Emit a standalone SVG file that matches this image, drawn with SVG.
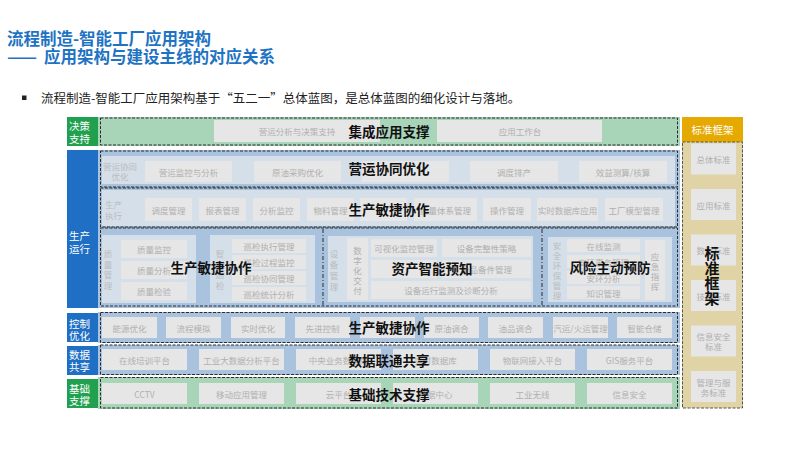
<svg xmlns="http://www.w3.org/2000/svg" width="800" height="450" viewBox="0 0 800 450" font-family="'Noto Sans CJK SC','Liberation Sans',sans-serif">
<style>
.bx{fill:#e6e6e6}
.bt{font-size:8.5px;fill:#b0b0b0;text-anchor:middle;dominant-baseline:central}
.pn{fill:#d4dfe9}
.bd{font-size:13.5px;font-weight:bold;fill:#111;text-anchor:middle;dominant-baseline:central}
.lb{font-size:10.5px;fill:#fff;dominant-baseline:central}
.ds{fill:none;stroke:#2b2b2b;stroke-width:1;stroke-dasharray:3 1.5}
.dd{fill:none;stroke:#2b2b2b;stroke-width:1;stroke-dasharray:4 2 1 2}
.blue{fill:#1f6fc5}
.green{fill:#21a050}
.bbg{fill:#a9c3de}
.gbg{fill:#a8d4b8}
.tt{font-size:16.5px;font-weight:bold;fill:#1e73c3}
</style>
<g id="title">
<text class="tt" x="7" y="45">流程制造-智能工厂应用架构</text>
<text class="tt" x="7" y="63" textLength="30" lengthAdjust="spacingAndGlyphs">——</text>
<text class="tt" x="44" y="63">应用架构与建设主线的对应关系</text>
<rect x="22" y="95.5" width="4.5" height="4.5" fill="#222"/>
<text x="41" y="97.5" font-size="12.5" fill="#222" dominant-baseline="central">流程制造-智能工厂应用架构基于“五二一”总体蓝图，是总体蓝图的细化设计与落地。</text>
</g>

<g id="row-decision">
<rect class="green" x="67" y="117" width="31" height="29"/>
<text class="lb" x="69" y="125">决策</text>
<text class="lb" x="69" y="138">支持</text>
<rect class="gbg" x="98" y="117" width="582" height="29"/>
<rect class="ds" x="100.5" y="118" width="577" height="27"/>
<rect class="bx" x="214" y="120" width="166" height="22"/>
<text class="bt" x="297" y="131">营运分析与决策支持</text>
<rect class="bx" x="437" y="120" width="165" height="22"/>
<text class="bt" x="520" y="131">应用工作台</text>
<text class="bd" x="389" y="131">集成应用支撑</text>
</g>

<g id="row-production">
<rect class="blue" x="67" y="150" width="31" height="158"/>
<text class="lb" x="69" y="235">生产</text>
<text class="lb" x="69" y="248">运行</text>
<rect class="bbg" x="98" y="150" width="582" height="158"/>
</g>

<g id="sub-operation">
<rect class="ds" x="100.5" y="151" width="577" height="36"/>
<rect class="pn" x="102" y="156" width="573" height="28"/>
<text class="bt" x="120" y="166" style="fill:#bcbcbc">营运协同</text>
<text class="bt" x="120" y="176" style="fill:#bcbcbc">优化</text>
<rect class="bx" x="145" y="161" width="87" height="21"/>
<text class="bt" x="188.5" y="171.5">营运监控与分析</text>
<rect class="bx" x="254" y="161" width="87" height="21"/>
<text class="bt" x="297.5" y="171.5">原油采购优化</text>
<rect class="bx" x="362" y="161" width="87" height="21"/>
<rect class="bx" x="470" y="161" width="88" height="21"/>
<text class="bt" x="514" y="171.5">调度排产</text>
<rect class="bx" x="579" y="161" width="88" height="21"/>
<text class="bt" x="623" y="171.5">效益测算/核算</text>
<text class="bd" x="389" y="168">营运协同优化</text>
</g>

<g id="sub-execution">
<rect class="ds" x="100.5" y="188" width="577" height="39"/>
<rect class="pn" x="102" y="190" width="573" height="36"/>
<text class="bt" x="105" y="204" style="text-anchor:start;fill:#bcbcbc">生产</text>
<text class="bt" x="105" y="215" style="text-anchor:start;fill:#bcbcbc">执行</text>
<rect class="bx" x="145" y="198" width="47" height="23"/>
<text class="bt" x="168.5" y="209.5">调度管理</text>
<rect class="bx" x="199" y="198" width="47" height="23"/>
<text class="bt" x="222.5" y="209.5">报表管理</text>
<rect class="bx" x="253" y="198" width="47" height="23"/>
<text class="bt" x="276.5" y="209.5">分析监控</text>
<rect class="bx" x="307" y="198" width="47" height="23"/>
<text class="bt" x="330.5" y="209.5">物料管理</text>
<rect class="bx" x="360" y="198" width="47" height="23"/>
<rect class="bx" x="414" y="198" width="63" height="23"/>
<text class="bt" x="445.5" y="209.5">质量体系管理</text>
<rect class="bx" x="483" y="198" width="48" height="23"/>
<text class="bt" x="507" y="209.5">操作管理</text>
<rect class="bx" x="537" y="198" width="61" height="23"/>
<text class="bt" x="567.5" y="209.5">实时数据库应用</text>
<rect class="bx" x="605" y="198" width="58" height="23"/>
<text class="bt" x="634" y="209.5">工厂模型管理</text>
<text class="bd" x="389" y="209">生产敏捷协作</text>
</g>

<g id="sub-lower">
<rect class="ds" x="100.5" y="228" width="577" height="78"/>
<line class="dd" x1="323" y1="229" x2="323" y2="306"/>
<line class="dd" x1="542" y1="229" x2="542" y2="306"/>
</g>

<g id="quality">
<rect class="pn" x="102" y="235" width="94" height="68"/>
<text class="bt" x="108" y="253" style="fill:#bcbcbc">质</text>
<text class="bt" x="108" y="263.5" style="fill:#bcbcbc">量</text>
<text class="bt" x="108" y="274" style="fill:#bcbcbc">管</text>
<text class="bt" x="108" y="284.5" style="fill:#bcbcbc">理</text>
<rect class="bx" x="121" y="240" width="66" height="18"/>
<text class="bt" x="154" y="249">质量监控</text>
<rect class="bx" x="121" y="261" width="66" height="18"/>
<text class="bt" x="154" y="270">质量分析</text>
<rect class="bx" x="121" y="282" width="66" height="18"/>
<text class="bt" x="154" y="291">质量检验</text>
</g>

<g id="inspection">
<rect class="pn" x="210" y="235" width="105" height="68"/>
<text class="bt" x="220" y="253" style="fill:#bcbcbc">智</text>
<text class="bt" x="220" y="263.5" style="fill:#bcbcbc">能</text>
<text class="bt" x="220" y="274" style="fill:#bcbcbc">巡</text>
<text class="bt" x="220" y="284.5" style="fill:#bcbcbc">检</text>
<rect class="bx" x="232" y="239" width="74" height="14"/>
<text class="bt" x="269" y="246">巡检执行管理</text>
<rect class="bx" x="232" y="255" width="74" height="14"/>
<text class="bt" x="269" y="262">巡检过程监控</text>
<rect class="bx" x="232" y="271" width="74" height="14"/>
<text class="bt" x="269" y="278">巡检协同管理</text>
<rect class="bx" x="232" y="287" width="74" height="14"/>
<text class="bt" x="269" y="294">巡检统计分析</text>
<text class="bd" x="211" y="267">生产敏捷协作</text>
</g>

<g id="equipment">
<rect class="pn" x="328" y="236" width="205" height="66"/>
<text class="bt" x="334" y="253" style="fill:#bcbcbc">设</text>
<text class="bt" x="334" y="264" style="fill:#bcbcbc">备</text>
<text class="bt" x="334" y="275" style="fill:#bcbcbc">管</text>
<text class="bt" x="334" y="286" style="fill:#bcbcbc">理</text>
<rect class="bx" x="347" y="238" width="21" height="62"/>
<text class="bt" x="357.5" y="250">数</text>
<text class="bt" x="357.5" y="260">字</text>
<text class="bt" x="357.5" y="270">化</text>
<text class="bt" x="357.5" y="280">交</text>
<text class="bt" x="357.5" y="290">付</text>
<rect class="bx" x="371" y="239" width="66" height="18"/>
<text class="bt" x="404" y="248">可视化监控管理</text>
<rect class="bx" x="442" y="239" width="89" height="18"/>
<text class="bt" x="486.5" y="248">设备完整性策略</text>
<rect class="bx" x="371" y="260" width="66" height="18"/>
<rect class="bx" x="442" y="260" width="89" height="18"/>
<text class="bt" x="486.5" y="269">备品备件管理</text>
<rect class="bx" x="371" y="281" width="160" height="18"/>
<text class="bt" x="451" y="290">设备运行监测及诊断分析</text>
<text class="bd" x="432" y="268">资产智能预知</text>
</g>

<g id="risk">
<rect class="pn" x="548" y="237" width="124" height="65"/>
<text class="bt" x="557" y="245" style="fill:#bcbcbc">安</text>
<text class="bt" x="557" y="255" style="fill:#bcbcbc">全</text>
<text class="bt" x="557" y="265" style="fill:#bcbcbc">环</text>
<text class="bt" x="557" y="275" style="fill:#bcbcbc">保</text>
<text class="bt" x="557" y="285" style="fill:#bcbcbc">管</text>
<text class="bt" x="557" y="295" style="fill:#bcbcbc">理</text>
<rect class="bx" x="567" y="239" width="73" height="13"/>
<text class="bt" x="603.5" y="245.5">在线监测</text>
<rect class="bx" x="567" y="255" width="73" height="13"/>
<text class="bt" x="603.5" y="261.5">安环事务管理</text>
<rect class="bx" x="567" y="271" width="73" height="13"/>
<text class="bt" x="603.5" y="277.5">安环分析</text>
<rect class="bx" x="567" y="286" width="73" height="13"/>
<text class="bt" x="603.5" y="292.5">知识管理</text>
<rect class="bx" x="645" y="240" width="20" height="60"/>
<text class="bt" x="655" y="256">应</text>
<text class="bt" x="655" y="266">急</text>
<text class="bt" x="655" y="276">指</text>
<text class="bt" x="655" y="286">挥</text>
<text class="bd" x="610" y="267">风险主动预防</text>
</g>

<g id="row-control">
<rect class="blue" x="67" y="313" width="31" height="29"/>
<text class="lb" x="69" y="323">控制</text>
<text class="lb" x="69" y="335">优化</text>
<rect class="bbg" x="98" y="312" width="582" height="31"/>
<rect class="ds" x="100.5" y="312.5" width="577" height="30"/>
<rect class="bx" x="102" y="317" width="55" height="21"/>
<text class="bt" x="129.5" y="327.5">能源优化</text>
<rect class="bx" x="166" y="317" width="55" height="21"/>
<text class="bt" x="193.5" y="327.5">流程模拟</text>
<rect class="bx" x="231" y="317" width="54" height="21"/>
<text class="bt" x="258" y="327.5">实时优化</text>
<rect class="bx" x="295" y="317" width="55" height="21"/>
<text class="bt" x="322.5" y="327.5">先进控制</text>
<rect class="bx" x="360" y="317" width="55" height="21"/>
<rect class="bx" x="424" y="317" width="55" height="21"/>
<text class="bt" x="451.5" y="327.5">原油调合</text>
<rect class="bx" x="488" y="317" width="55" height="21"/>
<text class="bt" x="515.5" y="327.5">油品调合</text>
<rect class="bx" x="553" y="317" width="55" height="21"/>
<text class="bt" x="580.5" y="327.5">汽运/火运管理</text>
<rect class="bx" x="617" y="317" width="55" height="21"/>
<text class="bt" x="644.5" y="327.5">智能仓储</text>
<text class="bd" x="389" y="327">生产敏捷协作</text>
</g>

<g id="row-data">
<rect class="blue" x="67" y="346" width="31" height="29"/>
<text class="lb" x="69" y="354">数据</text>
<text class="lb" x="69" y="366">共享</text>
<rect class="bbg" x="98" y="345" width="582" height="30"/>
<rect class="ds" x="100.5" y="345" width="577" height="29.5"/>
<rect class="bx" x="102" y="349" width="85" height="21"/>
<text class="bt" x="144.5" y="359.5">在线培训平台</text>
<rect class="bx" x="199" y="349" width="85" height="21"/>
<text class="bt" x="241.5" y="359.5">工业大数据分析平台</text>
<rect class="bx" x="296" y="349" width="85" height="21"/>
<text class="bt" x="338.5" y="359.5">中央业务数据库</text>
<rect class="bx" x="393" y="349" width="85" height="21"/>
<text class="bt" x="435.5" y="359.5">实时数据库</text>
<rect class="bx" x="490" y="349" width="85" height="21"/>
<text class="bt" x="532.5" y="359.5">物联网接入平台</text>
<rect class="bx" x="587" y="349" width="85" height="21"/>
<text class="bt" x="629.5" y="359.5">GIS服务平台</text>
<text class="bd" x="389" y="360">数据联通共享</text>
</g>

<g id="row-base">
<rect class="green" x="67" y="379" width="31" height="29"/>
<text class="lb" x="69" y="388">基础</text>
<text class="lb" x="69" y="400">支撑</text>
<rect class="gbg" x="98" y="377" width="582" height="32"/>
<rect class="ds" x="100.5" y="377.5" width="577" height="30.5"/>
<rect class="bx" x="102" y="383" width="85" height="21"/>
<text class="bt" x="144.5" y="393.5">CCTV</text>
<rect class="bx" x="199" y="383" width="85" height="21"/>
<text class="bt" x="241.5" y="393.5">移动应用管理</text>
<rect class="bx" x="296" y="383" width="85" height="21"/>
<text class="bt" x="338.5" y="393.5">云平台</text>
<rect class="bx" x="393" y="383" width="85" height="21"/>
<text class="bt" x="435.5" y="393.5">数据中心</text>
<rect class="bx" x="490" y="383" width="85" height="21"/>
<text class="bt" x="532.5" y="393.5">工业无线</text>
<rect class="bx" x="587" y="383" width="85" height="21"/>
<text class="bt" x="629.5" y="393.5">信息安全</text>
<text class="bd" x="389" y="394">基础技术支撑</text>
</g>

<g id="standards">
<rect x="682" y="117" width="61" height="25" fill="#e6a900"/>
<text class="lb" x="712.5" y="129.5" style="text-anchor:middle">标准框架</text>
<rect x="682" y="142" width="61" height="266" fill="#e0d3a6"/>
<rect class="ds" x="682.5" y="142" width="60" height="266" style="stroke:#555"/>
<rect class="bx" x="691" y="143.5" width="45" height="31"/>
<text class="bt" x="713.5" y="159">总体标准</text>
<rect class="bx" x="691" y="189" width="45" height="31"/>
<text class="bt" x="713.5" y="204.5">应用标准</text>
<rect class="bx" x="691" y="234.5" width="45" height="31"/>
<text class="bt" x="713.5" y="250">数据标准</text>
<rect class="bx" x="691" y="280" width="45" height="31"/>
<text class="bt" x="713.5" y="295.5">技术标准</text>
<rect class="bx" x="691" y="325.5" width="45" height="31"/>
<text class="bt" x="713.5" y="336">信息安全</text>
<text class="bt" x="713.5" y="346">标准</text>
<rect class="bx" x="691" y="371" width="45" height="31"/>
<text class="bt" x="713.5" y="381.5">管理与服</text>
<text class="bt" x="713.5" y="391.5">务标准</text>
<text class="bd" x="712" y="252" style="font-size:15px">标</text>
<text class="bd" x="712" y="267" style="font-size:15px">准</text>
<text class="bd" x="712" y="282" style="font-size:15px">框</text>
<text class="bd" x="712" y="297" style="font-size:15px">架</text>
</g>

<g id="connectors"/>
</svg>
